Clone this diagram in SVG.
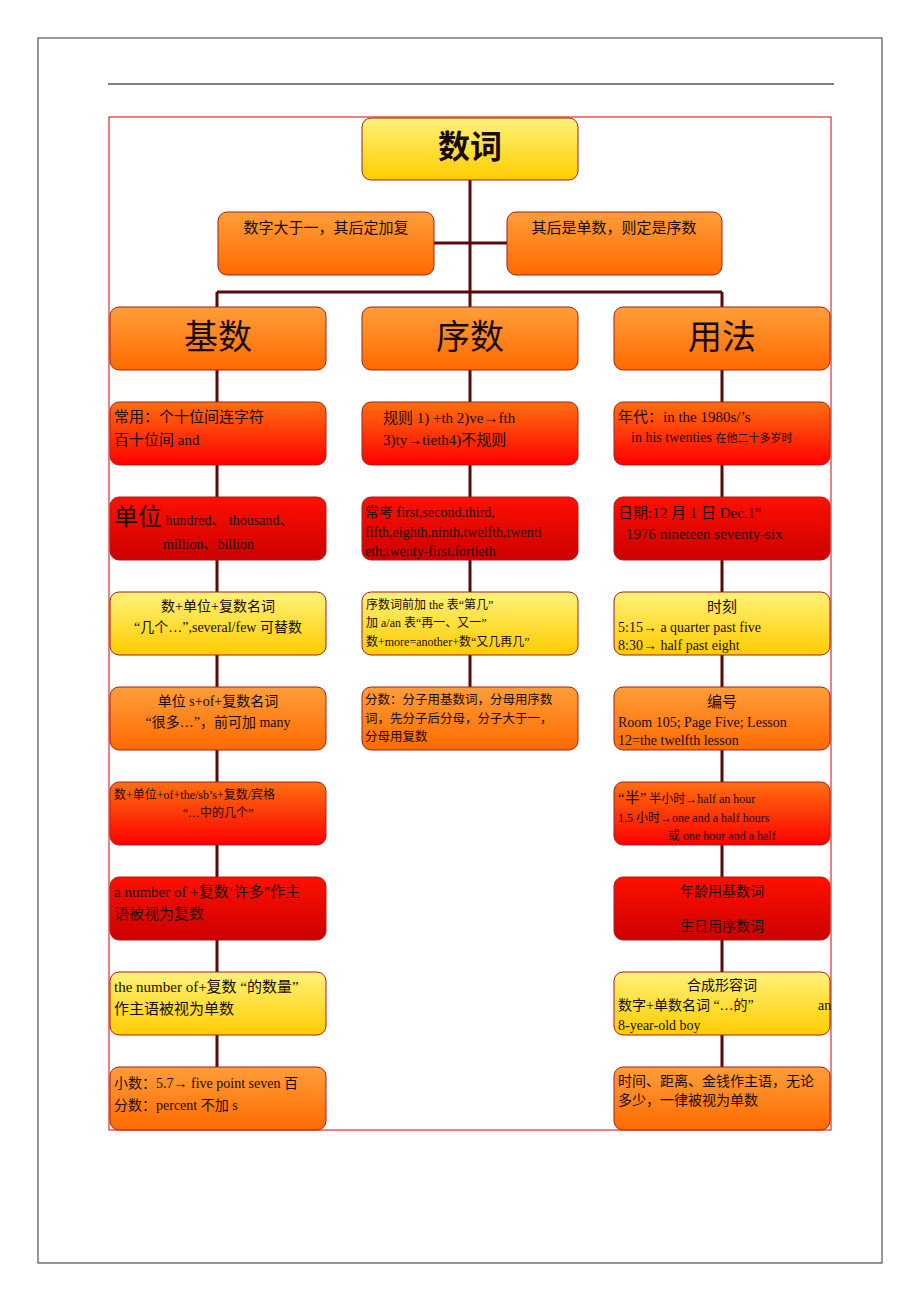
<svg xmlns="http://www.w3.org/2000/svg" width="920" height="1302" viewBox="0 0 920 1302">
<defs>
<linearGradient id="gy" x1="0" y1="0" x2="0" y2="1"><stop offset="0" stop-color="#fff27a"/><stop offset="1" stop-color="#ffcc00"/></linearGradient>
<linearGradient id="go" x1="0" y1="0" x2="0" y2="1"><stop offset="0" stop-color="#ff9e3a"/><stop offset="1" stop-color="#ff6a00"/></linearGradient>
<linearGradient id="gro" x1="0" y1="0" x2="0" y2="1"><stop offset="0" stop-color="#ff7010"/><stop offset="1" stop-color="#ff0000"/></linearGradient>
<linearGradient id="gr" x1="0" y1="0" x2="0" y2="1"><stop offset="0" stop-color="#ff1000"/><stop offset="1" stop-color="#cc0000"/></linearGradient>
</defs>
<style>
.b{stroke:#a0201a;stroke-width:1}
.y{fill:url(#gy)} .o{fill:url(#go)} .ro{fill:url(#gro)} .r{fill:url(#gr)}
text{font-family:"Liberation Serif","Noto Sans CJK SC",serif;fill:#1a0a00;font-size:14px}
.c{stroke:#5a0a0a;stroke-width:3;fill:none}
.h{font-size:34px;text-anchor:middle}
.m{text-anchor:middle}
</style>
<rect x="38" y="38" width="844" height="1225" fill="none" stroke="#333" stroke-width="1"/>
<line x1="108" y1="84" x2="834" y2="84" stroke="#000" stroke-width="1"/>
<rect x="109" y="117" width="722" height="1013" fill="none" stroke="#e00000" stroke-width="1"/>
<g id="connectors">
<path class="c" d="M470 180V292M434 243H507M217 292H722M217 292V307M470 292V307M722 292V307"/>
<path class="c" d="M217 370V1067M470 370V687M722 370V1067"/>
</g>
<g id="title"><rect class="b y" x="362" y="118" width="216" height="62" rx="9"/><text x="470" y="158" class="h" style="font-size:32px;font-weight:bold">数词</text></g>
<g id="s1"><rect class="b o" x="218" y="212" width="216" height="63" rx="9"/><text x="326" y="233" class="m" style="font-size:15px">数字大于一，其后定加复</text></g>
<g id="s2"><rect class="b o" x="507" y="212" width="215" height="63" rx="9"/><text x="614" y="233" class="m" style="font-size:15px">其后是单数，则定是序数</text></g>
<g id="h1"><rect class="b o" x="110" y="307" width="216" height="63" rx="9"/><text x="218" y="349" class="h">基数</text></g>
<g id="h2"><rect class="b o" x="362" y="307" width="216" height="63" rx="9"/><text x="470" y="349" class="h">序数</text></g>
<g id="h3"><rect class="b o" x="614" y="307" width="216" height="63" rx="9"/><text x="722" y="349" class="h">用法</text></g>

<g id="a1"><rect class="b ro" x="110" y="402" width="216" height="63" rx="9"/><text x="114" y="422" style="font-size:15px">常用：个十位间连字符</text><text x="114" y="445" style="font-size:15px">百十位间 and</text></g>
<g id="a2"><rect class="b r" x="110" y="497" width="216" height="63" rx="9"/><text x="114" y="525"><tspan style="font-size:24px">单位</tspan> hundred、 thousand、</text><text x="163" y="549">million、billion</text></g>
<g id="a3"><rect class="b y" x="110" y="592" width="216" height="63" rx="9"/><text x="218" y="611" class="m">数+单位+复数名词</text><text x="218" y="632" class="m">“几个…”,several/few 可替数</text></g>
<g id="a4"><rect class="b o" x="110" y="687" width="216" height="63" rx="9"/><text x="218" y="706" class="m">单位 s+of+复数名词</text><text x="218" y="727" class="m">“很多…”，前可加 many</text></g>
<g id="a5"><rect class="b ro" x="110" y="782" width="216" height="63" rx="9"/><text x="114" y="799" style="font-size:12px">数+单位+of+the/sb’s+复数/宾格</text><text x="218" y="817" class="m" style="font-size:12px">“…中的几个”</text></g>
<g id="a6"><rect class="b r" x="110" y="877" width="216" height="63" rx="9"/><text x="114" y="897" style="font-size:15px">a number of +复数‘许多”作主</text><text x="114" y="919" style="font-size:15px">语被视为复数</text></g>
<g id="a7"><rect class="b y" x="110" y="972" width="216" height="63" rx="9"/><text x="114" y="992" style="font-size:15px">the number of+复数 “的数量”</text><text x="114" y="1014" style="font-size:15px">作主语被视为单数</text></g>
<g id="a8"><rect class="b o" x="110" y="1067" width="216" height="63" rx="9"/><text x="114" y="1088">小数：5.7→ five point seven  百</text><text x="114" y="1110">分数：percent 不加 s</text></g>

<g id="b1"><rect class="b ro" x="362" y="402" width="216" height="63" rx="9"/><text x="383" y="423" style="font-size:15px">规则 1) +th 2)ve→fth</text><text x="383" y="445" style="font-size:15px">3)ty→tieth4)不规则</text></g>
<g id="b2"><rect class="b r" x="362" y="497" width="216" height="63" rx="9"/><text x="365" y="517">常考 first,second,third,</text><text x="365" y="537">fifth,eighth,ninth,twelfth,twenti</text><text x="365" y="556">eth,twenty-first,fortieth</text></g>
<g id="b3"><rect class="b y" x="362" y="592" width="216" height="63" rx="9"/><text x="366" y="609" style="font-size:12px">序数词前加 the 表“第几”</text><text x="366" y="627" style="font-size:12px">加 a/an 表“再一、又一”</text><text x="366" y="646" style="font-size:12px">数+more=another+数“又几再几”</text></g>
<g id="b4"><rect class="b o" x="362" y="687" width="216" height="63" rx="9"/><text x="365" y="704" style="font-size:12.5px">分数：分子用基数词，分母用序数</text><text x="365" y="723" style="font-size:12.5px">词，先分子后分母，分子大于一，</text><text x="365" y="741" style="font-size:12.5px">分母用复数</text></g>

<g id="c1"><rect class="b ro" x="614" y="402" width="216" height="63" rx="9"/><text x="618" y="422" style="font-size:15px">年代：in the 1980s/’s</text><text x="631" y="442">in his twenties <tspan style="font-size:11px">在他二十多岁时</tspan></text></g>
<g id="c2"><rect class="b r" x="614" y="497" width="216" height="63" rx="9"/><text x="618" y="518" style="font-size:15px">日期:12 月 1 日  Dec.1<tspan style="font-size:9px" dy="-6">st</tspan></text><text x="626" y="539" style="font-size:15px">1976 nineteen seventy-six</text></g>
<g id="c3"><rect class="b y" x="614" y="592" width="216" height="63" rx="9"/><text x="722" y="612" class="m" style="font-size:15px">时刻</text><text x="618" y="632">5:15→ a quarter past five</text><text x="618" y="650">8:30→ half past eight</text></g>
<g id="c4"><rect class="b o" x="614" y="687" width="216" height="63" rx="9"/><text x="722" y="707" class="m" style="font-size:15px">编号</text><text x="618" y="727">Room 105; Page Five; Lesson</text><text x="618" y="745">12=the twelfth lesson</text></g>
<g id="c5"><rect class="b ro" x="614" y="782" width="216" height="63" rx="9"/><text x="618" y="803" style="font-size:12px"><tspan style="font-size:15px">“半”</tspan> 半小时→half an hour</text><text x="618" y="822" style="font-size:12px">1.5 小时→one and a half hours</text><text x="668" y="840" style="font-size:12px">或 one hour and a half</text></g>
<g id="c6"><rect class="b r" x="614" y="877" width="216" height="63" rx="9"/><text x="722" y="896" class="m">年龄用基数词</text><text x="722" y="931" class="m">生日用序数词</text></g>
<g id="c7"><rect class="b y" x="614" y="972" width="216" height="63" rx="9"/><text x="722" y="990" class="m">合成形容词</text><text x="618" y="1010">数字+单数名词  “…的”</text><text x="818" y="1010">an</text><text x="618" y="1030">8-year-old boy</text></g>
<g id="c8"><rect class="b o" x="614" y="1067" width="216" height="63" rx="9"/><text x="618" y="1086">时间、距离、金钱作主语，无论</text><text x="618" y="1105">多少，一律被视为单数</text></g>
</svg>
